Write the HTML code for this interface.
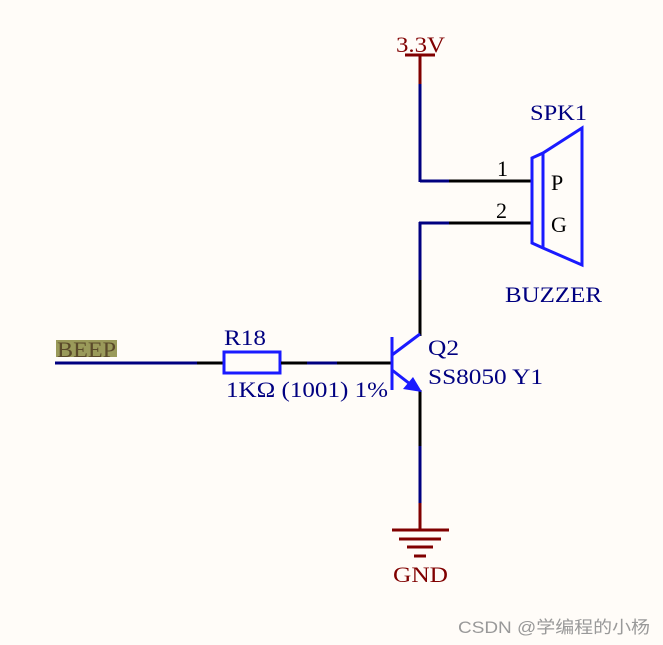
<!DOCTYPE html>
<html><head><meta charset="utf-8"><style>
html,body{margin:0;padding:0;background:#fffcf8;}
svg{display:block;}
text{font-family:"Liberation Serif",serif;}
</style></head><body>
<svg width="663" height="645" viewBox="0 0 663 645" xmlns="http://www.w3.org/2000/svg">
<rect width="663" height="645" fill="#fffcf8"/>
<g stroke-width="3" fill="none" stroke-linecap="butt">
<line x1="405" y1="55" x2="435" y2="55" stroke="#800000"/>
<line x1="420" y1="55" x2="420" y2="84" stroke="#800000"/>
<line x1="420" y1="84" x2="420" y2="182" stroke="#000080"/>
<line x1="420" y1="181" x2="449" y2="181" stroke="#000080"/>
<line x1="449" y1="181" x2="533" y2="181" stroke="#000"/>
<line x1="533" y1="223" x2="449" y2="223" stroke="#000"/>
<line x1="449" y1="223" x2="419" y2="223" stroke="#000080"/>
<line x1="420" y1="222" x2="420" y2="280" stroke="#000080"/>
<line x1="420" y1="280" x2="420" y2="336" stroke="#000"/>
<line x1="420" y1="390" x2="420" y2="446" stroke="#000"/>
<line x1="420" y1="446" x2="420" y2="503" stroke="#000080"/>
<line x1="420" y1="503" x2="420" y2="530" stroke="#800000"/>
<line x1="392" y1="530" x2="449" y2="530" stroke="#800000"/>
<line x1="399" y1="539" x2="441" y2="539" stroke="#800000"/>
<line x1="407" y1="547" x2="433" y2="547" stroke="#800000"/>
<line x1="414" y1="556" x2="426" y2="556" stroke="#800000"/>
<line x1="55" y1="363" x2="197" y2="363" stroke="#000080"/>
<line x1="197" y1="363" x2="223" y2="363" stroke="#000"/>
<rect x="224" y="352" width="56" height="21" stroke="#1a1aff"/>
<line x1="281" y1="363" x2="307" y2="363" stroke="#000"/>
<line x1="307" y1="363" x2="337" y2="363" stroke="#000080"/>
<line x1="337" y1="363" x2="392" y2="363" stroke="#000"/>
<line x1="392" y1="337" x2="392" y2="390" stroke="#1a1aff"/>
<line x1="392" y1="355" x2="420" y2="334" stroke="#1a1aff"/>
<line x1="392" y1="370" x2="410" y2="384" stroke="#1a1aff"/>
<polygon points="532,158 543,153 582,128 582,265 543,248 532,243" stroke="#1a1aff"/>
<line x1="543" y1="153" x2="543" y2="248" stroke="#1a1aff"/>
</g>
<polygon points="422,392 403,389 413,377" fill="#1a1aff"/>
<g font-size="22" lengthAdjust="spacingAndGlyphs">
<text x="396" y="52" fill="#800000" textLength="49" lengthAdjust="spacingAndGlyphs">3.3V</text>
<text x="530" y="120" fill="#000080" textLength="57" lengthAdjust="spacingAndGlyphs">SPK1</text>
<text x="497" y="176" fill="#000">1</text>
<text x="496" y="218" fill="#000">2</text>
<text x="551" y="190" fill="#000">P</text>
<text x="551" y="232" fill="#000">G</text>
<text x="505" y="302" fill="#000080" textLength="97" lengthAdjust="spacingAndGlyphs">BUZZER</text>
<text x="224" y="345" fill="#000080" textLength="42" lengthAdjust="spacingAndGlyphs">R18</text>
<text x="226" y="397" fill="#000080" textLength="162" lengthAdjust="spacingAndGlyphs">1KΩ (1001) 1%</text>
<text x="428" y="355" fill="#000080" textLength="31" lengthAdjust="spacingAndGlyphs">Q2</text>
<text x="428" y="384" fill="#000080" textLength="115" lengthAdjust="spacingAndGlyphs">SS8050 Y1</text>
<text x="393" y="582" fill="#800000" textLength="55" lengthAdjust="spacingAndGlyphs">GND</text>
<rect x="56" y="340" width="61" height="17" fill="#9a9a5a"/>
<text x="57" y="357" fill="#5a4a2a" textLength="59" lengthAdjust="spacingAndGlyphs">BEEP</text>
</g>
<text x="458" y="633" font-size="17" fill="#999" textLength="192" lengthAdjust="spacingAndGlyphs" style="font-family:'Liberation Sans','Noto Sans CJK SC',sans-serif">CSDN @学编程的小杨</text>
</svg>
</body></html>
